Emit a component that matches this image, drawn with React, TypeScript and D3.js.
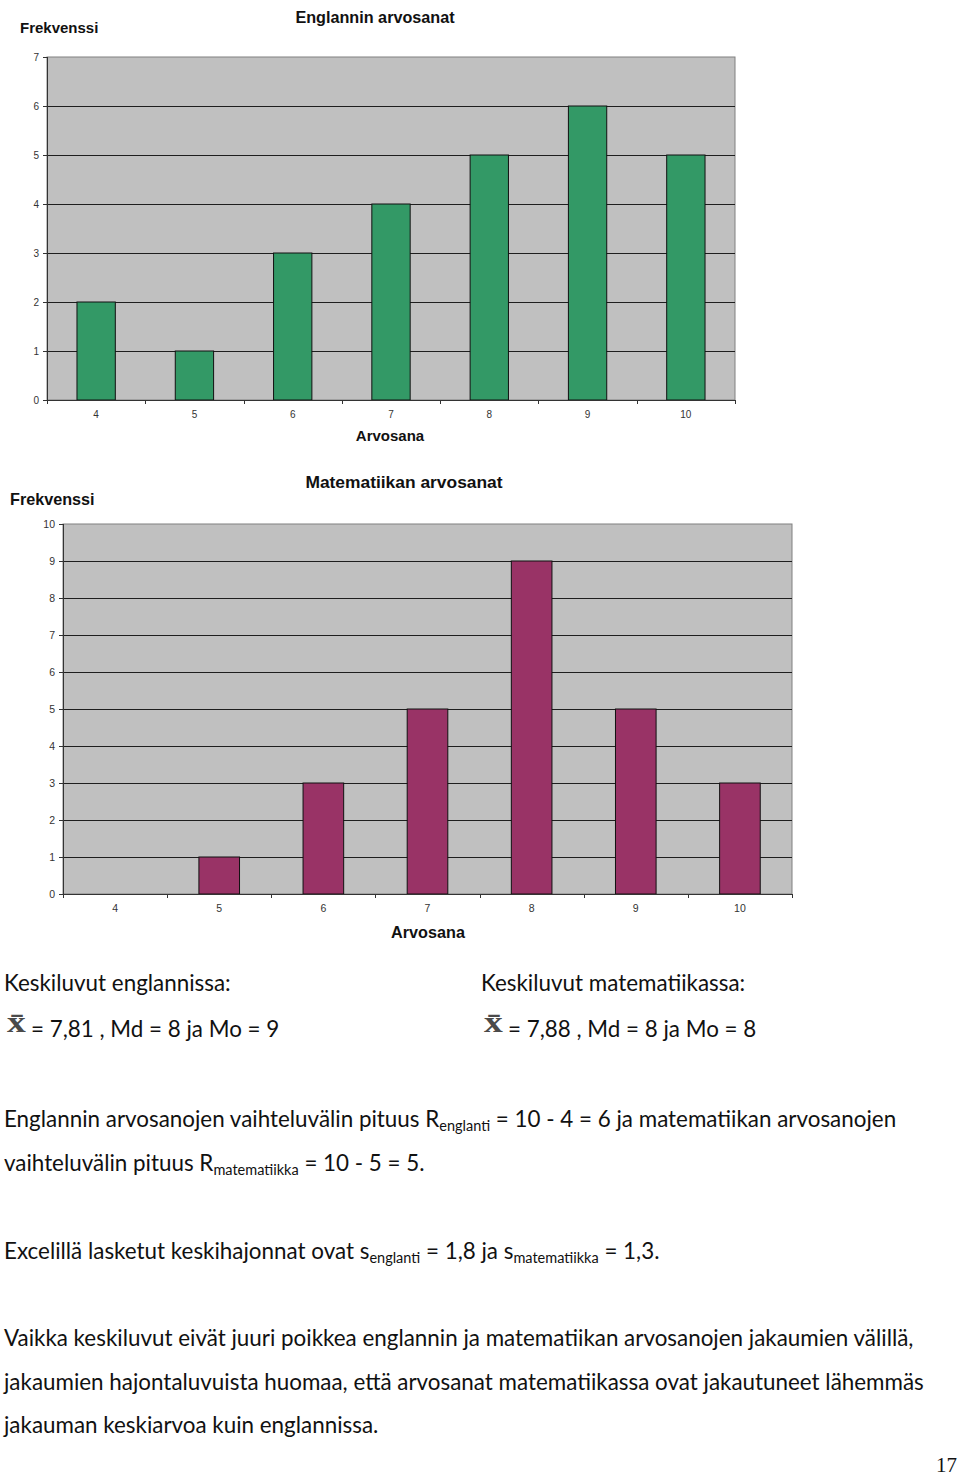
import React from "react";
import * as d3 from "d3";

const grades = ["4", "5", "6", "7", "8", "9", "10"];
const englishCounts = [2, 1, 3, 4, 5, 6, 5];
const mathCounts = [0, 1, 3, 5, 9, 5, 3];
const englishTicks = [0, 1, 2, 3, 4, 5, 6, 7];
const mathTicks = [0, 1, 2, 3, 4, 5, 6, 7, 8, 9, 10];

type ChartProps = {
  values: number[];
  ticks: number[];
  color: string;
  title: string;
  left: number;
  right: number;
  top: number;
  bottom: number;
  barRatio: number;
  titleX: number;
  titleY: number;
  freqX: number;
  freqY: number;
  axisTitleX: number;
  axisTitleY: number;
  labelSize: number;
  titleSize: number;
  tickSize: number;
};

function BarChart(p: ChartProps) {
  const x = d3.scaleBand<string>().domain(grades).range([p.left, p.right]).padding(0);
  const maxV = d3.max(p.ticks) as number;
  const y = d3.scaleLinear().domain([0, maxV]).range([p.bottom, p.top]);
  const bw = x.bandwidth();
  const barW = bw * p.barRatio;
  const boundaries = [...grades.map((g) => x(g) as number), p.right];
  const font = "'Liberation Sans', Arial, sans-serif";
  return (
    <g>
      <text x={p.titleX} y={p.titleY} textAnchor="middle" fontFamily={font} fontWeight="bold" fontSize={p.titleSize} fill="#111">
        {p.title}
      </text>
      <text x={p.freqX} y={p.freqY} fontFamily={font} fontWeight="bold" fontSize={p.labelSize} fill="#111">
        Frekvenssi
      </text>
      <rect x={p.left} y={p.top} width={p.right - p.left} height={p.bottom - p.top} fill="#c0c0c0" stroke="#808080" strokeWidth={1} />
      {p.ticks.filter((t) => t > 0 && t < maxV).map((t) => (
        <line key={"g" + t} x1={p.left} x2={p.right} y1={Math.round(y(t)) + 0.5} y2={Math.round(y(t)) + 0.5} stroke="#1e1e1e" strokeWidth={1} />
      ))}
      {p.values.map((v, i) => (
        v > 0 ? (
          <rect key={"b" + i} x={(x(grades[i]) as number) + (bw - barW) / 2} y={y(v)} width={barW} height={p.bottom - y(v)} fill={p.color} stroke="#111" strokeWidth={1} />
        ) : null
      ))}
      <line x1={p.left + 0.5} x2={p.left + 0.5} y1={p.top} y2={p.bottom} stroke="#333" strokeWidth={1} />
      <line x1={p.left} x2={p.right} y1={p.bottom + 0.5} y2={p.bottom + 0.5} stroke="#333" strokeWidth={1} />
      {p.ticks.map((t) => (
        <g key={"yt" + t}>
          <line x1={p.left - 4} x2={p.left} y1={Math.round(y(t)) + 0.5} y2={Math.round(y(t)) + 0.5} stroke="#333" />
          <text x={p.left - 8} y={y(t) + 3.5} textAnchor="end" fontFamily={font} fontSize={p.tickSize} fill="#333">
            {t}
          </text>
        </g>
      ))}
      {boundaries.map((b, i) => (
        <line key={"xt" + i} x1={Math.round(b) + 0.5} x2={Math.round(b) + 0.5} y1={p.bottom} y2={p.bottom + 4} stroke="#333" />
      ))}
      {grades.map((g) => (
        <text key={"xl" + g} x={(x(g) as number) + bw / 2} y={p.bottom + 18} textAnchor="middle" fontFamily={font} fontSize={p.tickSize} fill="#333">
          {g}
        </text>
      ))}
      <text x={p.axisTitleX} y={p.axisTitleY} textAnchor="middle" fontFamily={font} fontWeight="bold" fontSize={p.labelSize} fill="#111">
        Arvosana
      </text>
    </g>
  );
}

const bodyFont = "Lato, 'Open Sans', sans-serif";
const fs = 22.4;
const sub = 14.5;

function XBar({ x, y }: { x: number; y: number }) {
  return (
    <text x={x} y={y} fontFamily="'Liberation Serif', serif" fontWeight="bold" fontSize={30} fill="#4a4a4a" transform={`translate(${x},${y}) scale(1.25,1) translate(${-x},${-y})`}>
      {"x\u0304"}
    </text>
  );
}

export default function App() {
  return (
    <svg width={960} height={1476} style={{ position: "absolute", left: 0, top: 0, background: "#fff" }}>
      <BarChart
        values={englishCounts}
        ticks={englishTicks}
        color="#339966"
        title="Englannin arvosanat"
        left={47}
        right={735}
        top={57}
        bottom={400}
        barRatio={0.39}
        titleX={375}
        titleY={23}
        freqX={20}
        freqY={33}
        axisTitleX={390}
        axisTitleY={441}
        labelSize={15}
        titleSize={16.2}
        tickSize={10}
      />
      <BarChart
        values={mathCounts}
        ticks={mathTicks}
        color="#993366"
        title="Matematiikan arvosanat"
        left={63}
        right={792}
        top={524}
        bottom={894}
        barRatio={0.39}
        titleX={404}
        titleY={488}
        freqX={10}
        freqY={505}
        axisTitleX={428}
        axisTitleY={938}
        labelSize={16.2}
        titleSize={17.4}
        tickSize={10.5}
      />
      <g fontFamily={bodyFont} fontSize={fs} fill="#111">
        <text x={4} y={991}>Keskiluvut englannissa:</text>
        <text x={481} y={991}>Keskiluvut matematiikassa:</text>
        <XBar x={7} y={1032} />
        <text x={31} y={1037}>= 7,81 , Md = 8 ja Mo = 9</text>
        <XBar x={484} y={1032} />
        <text x={508} y={1037}>= 7,88 , Md = 8 ja Mo = 8</text>
        <text x={4} y={1127}>
          Englannin arvosanojen vaihteluvälin pituus R
          <tspan fontSize={sub} dy={4}>englanti</tspan>
          <tspan dy={-4}>{"  = 10 - 4 = 6 ja matematiikan arvosanojen"}</tspan>
        </text>
        <text x={4} y={1171}>
          vaihteluvälin pituus R
          <tspan fontSize={sub} dy={4}>matematiikka</tspan>
          <tspan dy={-4}>{" = 10 - 5 = 5."}</tspan>
        </text>
        <text x={4} y={1259}>
          Excelillä lasketut keskihajonnat ovat s
          <tspan fontSize={sub} dy={4}>englanti</tspan>
          <tspan dy={-4}>{" = 1,8 ja s"}</tspan>
          <tspan fontSize={sub} dy={4}>matematiikka</tspan>
          <tspan dy={-4}>{" = 1,3."}</tspan>
        </text>
        <text x={4} y={1346}>Vaikka keskiluvut eivät juuri poikkea englannin ja matematiikan arvosanojen jakaumien välillä,</text>
        <text x={4} y={1390}>jakaumien hajontaluvuista huomaa, että arvosanat matematiikassa ovat jakautuneet lähemmäs</text>
        <text x={4} y={1433}>jakauman keskiarvoa kuin englannissa.</text>
      </g>
      <text x={957} y={1472} textAnchor="end" fontFamily="'Liberation Serif', serif" fontSize={21} fill="#111">17</text>
    </svg>
  );
}
